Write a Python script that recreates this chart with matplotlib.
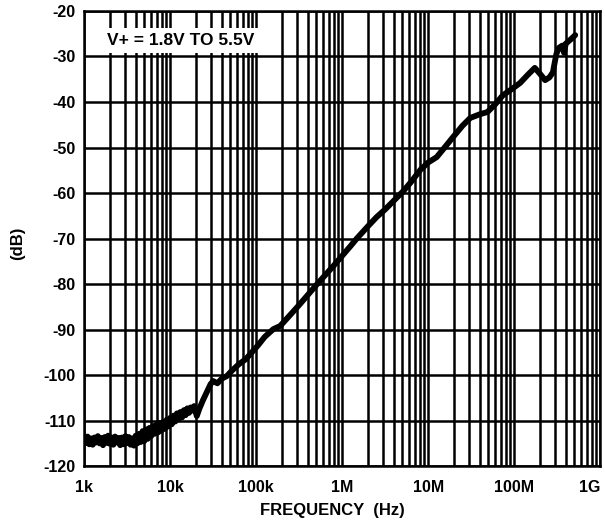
import numpy as np
import matplotlib
matplotlib.use("Agg")
import matplotlib.pyplot as plt
from matplotlib.ticker import FixedLocator, NullFormatter

plt.rcParams['font.family'] = ['Liberation Sans', 'DejaVu Sans']
plt.rcParams['font.weight'] = 'bold'
plt.rcParams['axes.unicode_minus'] = False

log_freq = [
    3.00, 3.02, 3.04, 3.06, 3.08, 3.10, 3.12, 3.14, 3.16, 3.18,
    3.20, 3.22, 3.24, 3.26, 3.28, 3.30, 3.32, 3.34, 3.36, 3.38,
    3.40, 3.42, 3.44, 3.46, 3.48, 3.50, 3.52, 3.54, 3.56, 3.58,
    3.60, 3.62, 3.64, 3.66, 3.68, 3.70, 3.72, 3.74, 3.76, 3.78,
    3.80, 3.82, 3.84, 3.86, 3.88, 3.90, 3.92, 3.94, 3.96, 3.98,
    4.00, 4.02, 4.04, 4.06, 4.08, 4.10, 4.12, 4.14, 4.16, 4.18,
    4.20, 4.22, 4.24, 4.26, 4.28, 4.31, 4.34, 4.38, 4.43, 4.47,
    4.50, 4.55, 4.60, 4.66, 4.72, 4.80, 4.88, 4.95, 5.02, 5.10,
    5.20, 5.28, 5.40, 5.50, 5.60, 5.71, 5.80, 5.90, 6.00, 6.10,
    6.17, 6.30, 6.40, 6.50, 6.60, 6.71, 6.80, 6.91, 7.00, 7.10,
    7.20, 7.29, 7.40, 7.49, 7.60, 7.69, 7.78, 7.87, 7.97, 8.07,
    8.16, 8.24, 8.30, 8.36, 8.41, 8.45, 8.49, 8.52, 8.56, 8.58,
    8.60, 8.66, 8.71,
]
level_db = [
    -113.4, -114.9, -113.5, -115.2, -113.9, -115.3, -113.7, -114.8, -113.4, -115.0,
    -113.8, -115.4, -113.6, -114.9, -113.3, -115.1, -113.7, -115.3, -113.5, -114.8,
    -113.8, -115.4, -113.7, -115.2, -113.4, -114.9, -113.6, -115.3, -113.9, -115.5,
    -113.3, -115.0, -112.9, -114.7, -112.3, -114.5, -111.9, -114.0, -111.6, -113.4,
    -111.2, -112.9, -110.9, -112.6, -110.5, -112.2, -110.3, -111.8, -109.8, -111.3,
    -109.4, -110.8, -108.9, -110.2, -108.4, -109.6, -108.1, -109.3, -107.7, -108.8,
    -107.3, -108.3, -107.1, -107.8, -106.8, -109.0, -107.4, -105.6, -103.6, -102.0,
    -101.3, -101.8, -100.8, -100.2, -99.0, -97.6, -96.5, -95.0, -93.5, -91.6,
    -89.9, -89.2, -86.7, -84.6, -82.4, -80.0, -78.1, -76.0, -73.8, -71.6,
    -70.0, -67.3, -65.3, -63.6, -61.7, -59.6, -57.6, -54.9, -53.3, -52.1,
    -49.8, -47.7, -45.2, -43.5, -42.7, -42.2, -40.5, -38.5, -37.2, -35.8,
    -34.0, -32.5, -33.8, -35.2, -34.6, -33.5, -29.5, -28.1, -27.6, -29.2,
    -27.2, -26.2, -25.3,
]

x_ticks = [1e3, 1e4, 1e5, 1e6, 1e7, 1e8, 1e9]
x_tick_labels = ['1k', '10k', '100k', '1M', '10M', '100M', '1G']
y_ticks = [-120, -110, -100, -90, -80, -70, -60, -50, -40, -30, -20]

freq_hz = 10 ** np.array(log_freq)

fig = plt.figure(figsize=(6.05, 5.22), dpi=100)
ax = fig.add_axes([0.139, 0.107, 0.853, 0.872])

ax.set_xscale('log')
ax.set_xlim(1e3, 1e9)
ax.set_ylim(-120, -20)

minor = [m * 10 ** d for d in range(3, 9) for m in range(2, 10)]
ax.xaxis.set_major_locator(FixedLocator(x_ticks))
ax.xaxis.set_minor_locator(FixedLocator(minor))
ax.xaxis.set_minor_formatter(NullFormatter())
ax.set_xticklabels(x_tick_labels)
ax.set_yticks(y_ticks)

ax.grid(True, which='both', axis='x', color='black', lw=1.8)
ax.grid(True, which='major', axis='y', color='black', lw=1.8)
ax.tick_params(which='both', length=0, labelsize=11.5)
ax.tick_params(axis='x', pad=10)
ax.tick_params(axis='y', pad=6)
for s in ax.spines.values():
    s.set_linewidth(1.8)

ax.plot(freq_hz, level_db, color='black', lw=4.2, solid_joinstyle='round',
        solid_capstyle='round', zorder=3)

labels = ax.get_xticklabels()
labels[-1].set_horizontalalignment('right')

ax.text(0.045, 0.935, 'V+ = 1.8V TO 5.5V', transform=ax.transAxes,
        fontsize=12.5, fontweight='bold', va='center', ha='left', zorder=4,
        bbox=dict(facecolor='white', edgecolor='none', pad=3.5))

ax.set_xlabel('FREQUENCY  (Hz)', fontsize=12, fontweight='bold')
ax.xaxis.set_label_coords(0.482, -0.082)
ax.set_ylabel('(dB)', fontsize=12, fontweight='bold')
ax.yaxis.set_label_coords(-0.115, 0.49)

fig.savefig('out.png', dpi=100)
